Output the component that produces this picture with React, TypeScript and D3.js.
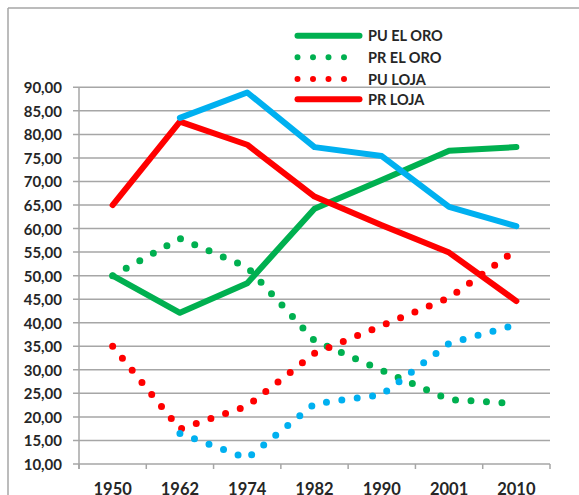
import React from "react";
import * as d3 from "d3";

const years = ["1950", "1962", "1974", "1982", "1990", "2001", "2010"];
const yTicks = [10, 15, 20, 25, 30, 35, 40, 45, 50, 55, 60, 65, 70, 75, 80, 85, 90];

const puElOro = [50.0, 42.1, 48.4, 64.2, 70.3, 76.5, 77.3];
const prElOro = [50.0, 57.9, 51.8, 36.2, 29.9, 23.7, 22.8];
const puLoja = [35.0, 17.4, 22.3, 33.5, 39.4, 45.3, 55.5];
const prLoja = [65.0, 82.7, 77.8, 66.8, 60.7, 54.9, 44.6];
const blueSolid = [null, 83.5, 88.9, 77.3, 75.4, 64.6, 60.5];
const blueDotted = [null, 16.5, 11.2, 22.8, 24.7, 35.6, 39.6];

const seriesNames = ["PU EL ORO", "PR EL ORO", "PU LOJA", "PR LOJA"];

const GREEN = "#00b050";
const RED = "#ff0000";
const BLUE = "#00b0f0";
const GRID = "#a6a6a6";
const FONT = "Lato, 'Open Sans', sans-serif";

export default function App() {
  const W = 579, H = 495;
  const x = d3.scaleBand<string>().domain(years).range([79, 550]).padding(0);
  const y = d3.scaleLinear().domain([10, 90]).range([464, 87.3]);
  const cx = (i: number) => (x(years[i]) as number) + x.bandwidth() / 2;

  const line = d3
    .line<number | null>()
    .defined((d) => d !== null)
    .x((_, i) => cx(i))
    .y((d) => y(d as number));

  const series = [
    { data: puElOro, color: GREEN, dotted: false },
    { data: prElOro, color: GREEN, dotted: true },
    { data: puLoja, color: RED, dotted: true },
    { data: prLoja, color: RED, dotted: false },
    { data: blueSolid, color: BLUE, dotted: false },
    { data: blueDotted, color: BLUE, dotted: true },
  ];

  const legend = [
    { name: seriesNames[0], color: GREEN, dotted: false },
    { name: seriesNames[1], color: GREEN, dotted: true },
    { name: seriesNames[2], color: RED, dotted: true },
    { name: seriesNames[3], color: RED, dotted: false },
  ];
  const legendRows = [35.7, 57.3, 79, 99.3];

  const xEdges = years.map((yr) => x(yr) as number).concat([550]);

  return (
    <svg
      width={W}
      height={H}
      style={{ position: "absolute", left: 0, top: 0, background: "#fff" }}
      fontFamily={FONT}
    >
      {/* outer frame */}
      <line x1={8} y1={8} x2={W} y2={8} stroke={GRID} strokeWidth={1.5} />
      <line x1={8} y1={8} x2={8} y2={H} stroke={GRID} strokeWidth={1.5} />

      {/* gridlines */}
      {yTicks.map((t) => (
        <line key={t} x1={73} x2={550} y1={y(t)} y2={y(t)} stroke={GRID} strokeWidth={1.5} />
      ))}
      {/* y axis */}
      <line x1={79} x2={79} y1={y(90)} y2={469} stroke={GRID} strokeWidth={1.5} />
      {/* x ticks */}
      {xEdges.map((e, i) => (
        <line key={i} x1={e} x2={e} y1={464} y2={469} stroke={GRID} strokeWidth={1.5} />
      ))}

      {/* y labels */}
      {yTicks.map((t) => (
        <text
          key={t}
          x={62}
          y={y(t)}
          textAnchor="end"
          dominantBaseline="central"
          fontSize={15}
          fontWeight="bold"
          fill="#262626"
        >
          {t.toFixed(2).replace(".", ",")}
        </text>
      ))}
      {/* x labels */}
      {years.map((yr, i) => (
        <text
          key={yr}
          x={cx(i)}
          y={494.5}
          textAnchor="middle"
          fontSize={16.5}
          fontWeight="bold"
          fill="#262626"
        >
          {yr}
        </text>
      ))}

      {/* series */}
      {series.map((s, i) => (
        <path
          key={i}
          d={line(s.data) || ""}
          fill="none"
          stroke={s.color}
          strokeWidth={s.dotted ? 7 : 6}
          strokeLinecap="round"
          strokeLinejoin="round"
          strokeDasharray={s.dotted ? "0 15.5" : undefined}
        />
      ))}

      {/* legend */}
      {legend.map((l, i) => (
        <g key={l.name}>
          <line
            x1={297.5}
            x2={359.5}
            y1={legendRows[i]}
            y2={legendRows[i]}
            stroke={l.color}
            strokeWidth={6}
            strokeLinecap="round"
            strokeDasharray={l.dotted ? "0 15.5" : undefined}
          />
          <text
            x={368}
            y={legendRows[i]}
            dominantBaseline="central"
            fontSize={14.5}
            fontWeight="bold"
            fill="#262626"
          >
            {l.name}
          </text>
        </g>
      ))}
    </svg>
  );
}
